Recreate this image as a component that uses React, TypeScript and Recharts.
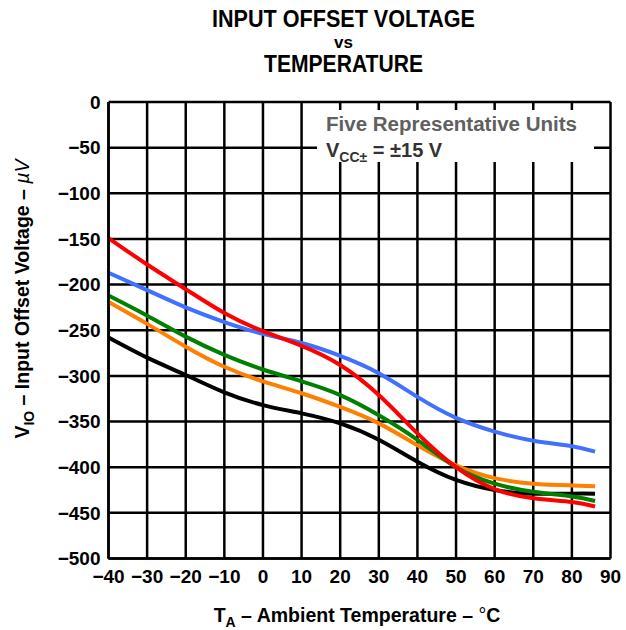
import React from "react";
import { LineChart, Line, XAxis, YAxis, CartesianGrid } from "recharts";

// temperatures (°C) where values were read
const temps = [-40, -30, -20, -10, 0, 10, 20, 30, 40, 50, 60, 70, 80, 86];

// input offset voltage (µV), five units
const unitRed = [-149, -178, -205, -231, -251, -267, -288, -321, -363, -400, -424, -434, -438, -443];
const unitBlue = [-187, -206, -225, -241, -254, -264, -278, -297, -323, -346, -361, -371, -377, -383];
const unitGreen = [-212, -234, -257, -277, -293, -306, -321, -343, -370, -400, -418, -427, -432, -437];
const unitOrange = [-219, -243, -268, -290, -306, -319, -334, -352, -376, -398, -412, -418, -420, -421];
const unitBlack = [-258, -280, -299, -318, -332, -341, -352, -370, -394, -414, -425, -429, -429, -429];

const xTicks = [-40, -30, -20, -10, 0, 10, 20, 30, 40, 50, 60, 70, 80, 90];
const yTicks = [0, -50, -100, -150, -200, -250, -300, -350, -400, -450, -500];

const data = temps.map((t, i) => ({
    t,
    red: unitRed[i],
    blue: unitBlue[i],
    green: unitGreen[i],
    orange: unitOrange[i],
    black: unitBlack[i],
}));

const series = [
    { key: "black", color: "#000000" },
    { key: "orange", color: "#ff7f00" },
    { key: "green", color: "#008000" },
    { key: "blue", color: "#4070ff" },
    { key: "red", color: "#ff0000" },
];

const font = "'Liberation Sans', Arial, Helvetica, sans-serif";
const tickStyle = { fill: "#000", fontSize: 19, fontWeight: 700, fontFamily: font };
const minus = (v: number) => String(v).replace("-", "\u2212");

export default function App() {
    return (
        <div style={{ position: "absolute", left: 0, top: 0, width: 626, height: 630, background: "#fff" }}>
            <LineChart
                width={626}
                height={630}
                data={data}
                margin={{ top: 102, right: 15.5, bottom: 31.5, left: 0 }}
            >
                <CartesianGrid stroke="#000" strokeWidth={2.5} />
                <XAxis
                    dataKey="t"
                    type="number"
                    domain={[-40, 90]}
                    ticks={xTicks}
                    tickFormatter={minus}
                    tick={tickStyle}
                    tickLine={false}
                    tickMargin={5.5}
                    height={40}
                    axisLine={{ stroke: "#000", strokeWidth: 2.5 }}
                    interval={0}
                />
                <YAxis
                    type="number"
                    domain={[-500, 0]}
                    ticks={yTicks}
                    tickFormatter={minus}
                    tick={tickStyle}
                    tickLine={false}
                    width={108.5}
                    axisLine={{ stroke: "#000", strokeWidth: 2.5 }}
                    interval={0}
                />
                {series.map((s) => (
                    <Line
                        key={s.key}
                        type="natural"
                        dataKey={s.key}
                        stroke={s.color}
                        strokeWidth={4}
                        dot={false}
                        isAnimationActive={false}
                    />
                ))}
            </LineChart>
            <svg
                width={626}
                height={630}
                style={{ position: "absolute", left: 0, top: 0, pointerEvents: "none" }}
                fontFamily={font}
                fontWeight={700}
            >
                {/* title */}
                <text x={343.5} y={27} textAnchor="middle" fontSize={23.5} textLength={263} lengthAdjust="spacingAndGlyphs">
                    INPUT OFFSET VOLTAGE
                </text>
                <text x={343.5} y={48} textAnchor="middle" fontSize={17}>vs</text>
                <text x={343.5} y={72} textAnchor="middle" fontSize={23.5} textLength={159} lengthAdjust="spacingAndGlyphs">
                    TEMPERATURE
                </text>

                {/* note box */}
                <rect x={317} y={110} width={277} height={52} fill="#fff" />
                <text x={326} y={131} fontSize={20} fill="#606060" textLength={251} lengthAdjust="spacingAndGlyphs">
                    Five Representative Units
                </text>
                <text x={326} y={157} fontSize={20} fill="#333">
                    V<tspan dy={5} fontSize={14}>CC±</tspan>
                    <tspan dy={-5}> = ±15 V</tspan>
                </text>

                {/* x axis title */}
                <text x={357} y={622} textAnchor="middle" fontSize={19.5}>
                    T<tspan dy={5} fontSize={14}>A</tspan>
                    <tspan dy={-5}> – Ambient Temperature – </tspan>
                    <tspan fontWeight={400}>°</tspan>C
                </text>

                {/* y axis title */}
                <text x={28.5} y={299} textAnchor="middle" fontSize={19.5} transform="rotate(-90 28.5 299)">
                    V<tspan dy={5} fontSize={14}>IO</tspan>
                    <tspan dy={-5}> – Input Offset Voltage – </tspan>
                    <tspan fontWeight={400} fontStyle="italic">µV</tspan>
                </text>
            </svg>
        </div>
    );
}
